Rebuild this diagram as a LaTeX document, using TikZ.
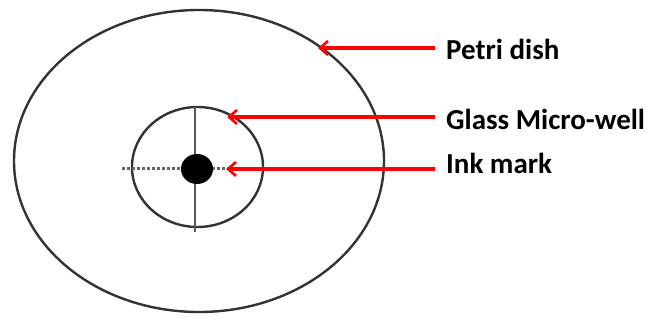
\documentclass[tikz,border=0pt]{standalone}
\usepackage{fontspec}
\setmainfont{Carlito}
\usetikzlibrary{arrows.meta,shapes.geometric}
\begin{document}
\begin{tikzpicture}[x=1pt,y=1pt,
  ring/.style={draw=black!80,line width=2.4pt,ellipse,inner sep=0pt},
  pointer/.style={draw=red,line width=3.2pt,-{Straight Barb[length=8pt,width=14pt,line width=2.6pt]}},
  lbl/.style={anchor=base west,font=\fontsize{29}{33}\selectfont\bfseries,inner sep=0pt}]
\useasboundingbox (0,0) rectangle (649,322);
\node[ring,minimum width=370pt,minimum height=302pt] (dish) at (199,161) {};
\node[ring,minimum width=131pt,minimum height=120pt] (well) at (197.5,155) {};
\coordinate (vtop) at (195,215);
\coordinate (vbot) at (195,90);
\draw[black!65,line width=2pt] (vtop) -- (vbot);
\coordinate (hl) at (122,153);
\coordinate (hr) at (254,153);
\draw[black!60,line width=3pt,dash pattern=on 3pt off 2pt] (hl) -- (hr);
\node[fill=black,ellipse,minimum width=32pt,minimum height=30pt,inner sep=0pt] (ink) at (197,153) {};
\node[lbl] (lpetri) at (446,262) {Petri dish};
\node[lbl] (lglass) at (446,192) {Glass Micro-well};
\node[lbl] (link) at (446,149) {Ink mark};
\coordinate (tpetri) at (318,274);
\coordinate (tglass) at (227,205);
\coordinate (tink) at (226,153);
\draw[pointer] (435,274) coordinate (spetri) -- (tpetri);
\draw[pointer] (435,205) coordinate (sglass) -- (tglass);
\draw[pointer] (435,153) coordinate (sink) -- (tink);
\end{tikzpicture}
\end{document}
